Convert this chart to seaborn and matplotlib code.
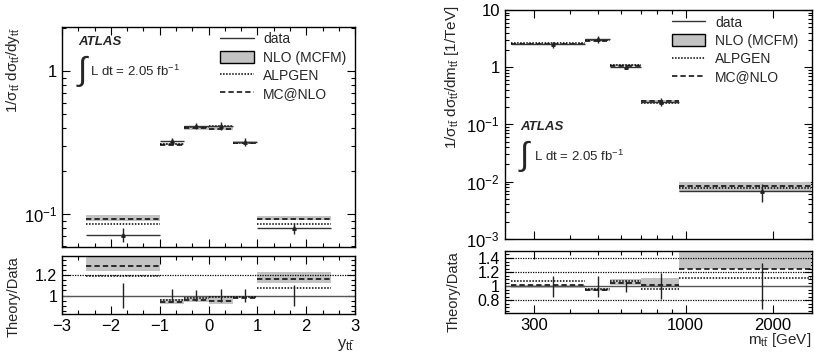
import numpy as np
import seaborn as sns
import matplotlib.pyplot as plt
from matplotlib.lines import Line2D
from matplotlib.patches import Patch
from matplotlib.ticker import MultipleLocator, FixedLocator, FixedFormatter, NullFormatter, LogLocator

# ---- rapidity y_tt ----
y_edges = [-2.5, -1.0, -0.5, 0.0, 0.5, 1.0, 2.5]
y_pts = [-1.75, -0.75, -0.25, 0.25, 0.75, 1.75]
y_data = [0.0717, 0.323, 0.415, 0.415, 0.32, 0.0798]
y_err = [0.008, 0.02, 0.022, 0.025, 0.02, 0.0075]
y_nlo_lo = [0.090, 0.305, 0.39, 0.385, 0.315, 0.091]
y_nlo_hi = [0.099, 0.315, 0.41, 0.41, 0.325, 0.098]
y_alpgen = [0.0855, 0.31, 0.405, 0.41, 0.315, 0.0853]
y_mcnlo = [0.093, 0.305, 0.40, 0.395, 0.312, 0.093]
# ratio theory/data
yr_err = [0.12, 0.065, 0.055, 0.06, 0.06, 0.10]
yr_nlo_lo = [1.24, 0.92, 0.94, 0.92, 0.985, 1.12]
yr_nlo_hi = [1.40, 0.965, 0.99, 0.985, 1.0, 1.225]
yr_alpgen = [1.19, 0.952, 0.975, 0.985, 0.985, 1.077]
yr_mcnlo = [1.29, 0.94, 0.958, 0.95, 0.975, 1.16]

# ---- mass m_tt ----
m_edges = [250, 450, 550, 700, 950, 2700]
m_pts = [348, 501, 624, 826, 1840]
m_data = [2.5, 3.05, 1.02, 0.25, 0.0068]
m_err = [0.3, 0.4, 0.08, 0.04, 0.0024]
m_nlo_lo = [2.4, 2.85, 1.03, 0.245, 0.0067]
m_nlo_hi = [2.55, 3.0, 1.12, 0.27, 0.0100]
m_alpgen = [2.65, 2.95, 1.08, 0.24, 0.0076]
m_mcnlo = [2.55, 2.9, 1.06, 0.255, 0.0085]
mr_err = [0.15, 0.15, 0.085, 0.19, 0.33]
mr_nlo_lo = [0.97, 0.93, 1.02, 1.0, 1.24]
mr_nlo_hi = [1.01, 0.97, 1.10, 1.11, 1.6]
mr_alpgen = [1.067, 0.96, 1.067, 0.96, 1.12]
mr_mcnlo = [1.02, 0.94, 1.04, 1.02, 1.24]

sns.set_theme(style='ticks')
plt.rcParams['font.family'] = ['Liberation Sans', 'DejaVu Sans']
plt.rcParams['mathtext.fontset'] = 'custom'
plt.rcParams['mathtext.rm'] = 'Liberation Sans'
plt.rcParams['mathtext.it'] = 'Liberation Sans'
plt.rcParams['mathtext.bf'] = 'Liberation Sans:bold'

band_col = '#c3c3c3'
dotted = (0, (1, 1))
dashed = (0, (3.5, 2))
tt = r'$_{\mathrm{t\bar{t}}}$'


def draw_bins(ax, edges, lo, hi, alp, mcn, dat=None):
    for i in range(len(edges) - 1):
        ax.fill_between([edges[i], edges[i + 1]], lo[i], hi[i], color=band_col, lw=0, zorder=1)
    ax.hlines(alp, edges[:-1], edges[1:], colors='black', linestyles=dotted, lw=1.1, zorder=3)
    ax.hlines(mcn, edges[:-1], edges[1:], colors='black', linestyles=dashed, lw=1.1, zorder=3)
    if dat is not None:
        ax.hlines(dat, edges[:-1], edges[1:], colors='#333333', linestyles='solid', lw=1.0, zorder=3)


def style_ax(ax):
    ax.tick_params(which='both', direction='in', top=True, right=True, labelsize=10.5,
                   colors='black', width=0.8)
    ax.tick_params(which='major', length=6)
    ax.tick_params(which='minor', length=3)
    for s in ax.spines.values():
        s.set_linewidth(1.0)
        s.set_color('black')


fig = plt.figure(figsize=(8.14, 3.55), dpi=100)
axL = fig.add_axes([0.0762, 0.304, 0.360, 0.620])
axLr = fig.add_axes([0.0762, 0.1155, 0.360, 0.1634])
axR = fig.add_axes([0.620, 0.327, 0.377, 0.645])
axRr = fig.add_axes([0.620, 0.119, 0.377, 0.174])

# ---- left main ----
draw_bins(axL, y_edges, y_nlo_lo, y_nlo_hi, y_alpgen, y_mcnlo, y_data)
axL.errorbar(y_pts, y_data, yerr=y_err, fmt='^', ms=2.5, color='#222222', elinewidth=1.0, capsize=0, zorder=4)
axL.set_yscale('log')
axL.set_xlim(-3, 3)
axL.set_ylim(0.059, 2.03)
axL.yaxis.set_major_locator(FixedLocator([0.1, 1]))
axL.yaxis.set_major_formatter(FixedFormatter([r'$10^{-1}$', '1']))
axL.yaxis.set_minor_locator(LogLocator(subs=np.arange(2, 10)))
axL.yaxis.set_minor_formatter(NullFormatter())
axL.xaxis.set_major_locator(MultipleLocator(1))
axL.xaxis.set_minor_locator(MultipleLocator(1 / 3))
axL.set_xticklabels([])
style_ax(axL)
axL.tick_params(axis='y', labelsize=12)
axL.set_ylabel('1/σ' + tt + ' dσ' + tt + '/dy' + tt, fontsize=11, loc='top')
axL.yaxis.set_label_coords(-0.135, 1.0)

# ---- left ratio ----
axLr.axhline(1.0, color='#555555', lw=1.0, zorder=2)
axLr.axhline(1.2, color='black', ls=dotted, lw=0.9, zorder=2)
draw_bins(axLr, y_edges, yr_nlo_lo, yr_nlo_hi, yr_alpgen, yr_mcnlo)
axLr.errorbar(y_pts, np.ones(len(y_pts)), yerr=yr_err, fmt='none', ecolor='#222222', elinewidth=1.0, zorder=4)
axLr.set_xlim(-3, 3)
axLr.set_ylim(0.82, 1.385)
axLr.xaxis.set_major_locator(MultipleLocator(1))
axLr.xaxis.set_minor_locator(MultipleLocator(1 / 3))
axLr.yaxis.set_major_locator(FixedLocator([1.0, 1.2]))
axLr.yaxis.set_major_formatter(FixedFormatter(['1', '1.2']))
axLr.yaxis.set_minor_locator(MultipleLocator(0.05))
style_ax(axLr)
axLr.tick_params(axis='x', labelsize=12)
axLr.tick_params(axis='y', labelsize=11.5)
axLr.set_ylabel('Theory/Data', fontsize=10.5, loc='top')
axLr.yaxis.set_label_coords(-0.14, 1.0)
axLr.set_xlabel('y' + tt, fontsize=12, loc='right')
axLr.xaxis.set_label_coords(1.0, -0.4)

# ---- right main ----
draw_bins(axR, m_edges, m_nlo_lo, m_nlo_hi, m_alpgen, m_mcnlo, m_data)
axR.errorbar(m_pts, m_data, yerr=m_err, fmt='^', ms=2.5, color='#222222', elinewidth=1.0, capsize=0, zorder=4)
axR.set_xscale('log')
axR.set_yscale('log')
axR.set_xlim(238, 2720)
axR.set_ylim(1e-3, 10)
axR.yaxis.set_major_locator(FixedLocator([1e-3, 1e-2, 1e-1, 1, 10]))
axR.yaxis.set_major_formatter(FixedFormatter([r'$10^{-3}$', r'$10^{-2}$', r'$10^{-1}$', '1', '10']))
axR.yaxis.set_minor_locator(LogLocator(subs=np.arange(2, 10)))
axR.yaxis.set_minor_formatter(NullFormatter())
axR.xaxis.set_major_locator(FixedLocator([300, 1000, 2000]))
axR.xaxis.set_minor_locator(FixedLocator([400, 500, 600, 700, 800, 900]))
axR.xaxis.set_major_formatter(NullFormatter())
axR.xaxis.set_minor_formatter(NullFormatter())
style_ax(axR)
axR.tick_params(axis='y', labelsize=12)
axR.set_ylabel('1/σ' + tt + ' dσ' + tt + '/dm' + tt + ' [1/TeV]', fontsize=11, loc='top')
axR.yaxis.set_label_coords(-0.143, 1.02)

# ---- right ratio ----
axRr.axhline(1.0, color='#555555', lw=1.0, zorder=2)
for v in [0.8, 1.2, 1.4]:
    axRr.axhline(v, color='black', ls=dotted, lw=0.9, zorder=2)
draw_bins(axRr, m_edges, mr_nlo_lo, mr_nlo_hi, mr_alpgen, mr_mcnlo)
axRr.errorbar(m_pts, np.ones(len(m_pts)), yerr=mr_err, fmt='none', ecolor='#222222', elinewidth=1.0, zorder=4)
axRr.set_xscale('log')
axRr.set_xlim(238, 2720)
axRr.set_ylim(0.62, 1.5)
axRr.xaxis.set_major_locator(FixedLocator([300, 1000, 2000]))
axRr.xaxis.set_major_formatter(FixedFormatter(['300', '1000', '2000']))
axRr.xaxis.set_minor_locator(FixedLocator([400, 500, 600, 700, 800, 900]))
axRr.xaxis.set_minor_formatter(NullFormatter())
axRr.yaxis.set_major_locator(FixedLocator([0.8, 1.0, 1.2, 1.4]))
axRr.yaxis.set_major_formatter(FixedFormatter(['0.8', '1', '1.2', '1.4']))
axRr.yaxis.set_minor_locator(MultipleLocator(0.05))
style_ax(axRr)
axRr.tick_params(axis='x', labelsize=12)
axRr.tick_params(axis='y', labelsize=11.5)
axRr.set_ylabel('Theory/Data', fontsize=10.5, loc='top')
axRr.yaxis.set_label_coords(-0.143, 1.0)
axRr.set_xlabel('m' + tt + ' [GeV]', fontsize=11, loc='right')
axRr.xaxis.set_label_coords(1.0, -0.3)

# ---- legends and labels ----
handles = [Line2D([], [], color='#333333', lw=1.0),
           Patch(facecolor=band_col, edgecolor='black', lw=1.0),
           Line2D([], [], color='black', ls=dotted, lw=1.1),
           Line2D([], [], color='black', ls=dashed, lw=1.1)]
names = ['data', 'NLO (MCFM)', 'ALPGEN', 'MC@NLO']
for ax, bx, by in [(axL, 0.54, 0.975), (axR, 0.545, 0.975)]:
    ax.legend(handles, names, loc='upper left', bbox_to_anchor=(bx, by), frameon=False,
              fontsize=10, handlelength=2.4, handleheight=1.0, handletextpad=0.7,
              labelspacing=0.3, borderpad=0, borderaxespad=0)

for ax, ax_x, ax_y, dy in [(axL, 0.055, 0.93, 0.10), (axR, 0.052, 0.49, 0.096)]:
    ax.text(ax_x, ax_y, 'ATLAS', transform=ax.transAxes, fontsize=9.5, fontweight='bold',
            fontstyle='italic', va='center', ha='left')
    ax.text(ax_x - 0.008, ax_y - 0.03 - dy, r'$\int$', transform=ax.transAxes, fontsize=24,
            va='center', ha='left')
    ax.text(ax_x + 0.042, ax_y - 0.13, r'L dt = 2.05 fb$^{-1}$', transform=ax.transAxes,
            fontsize=9.5, va='center', ha='left')

fig.savefig('out.png', dpi=100)
